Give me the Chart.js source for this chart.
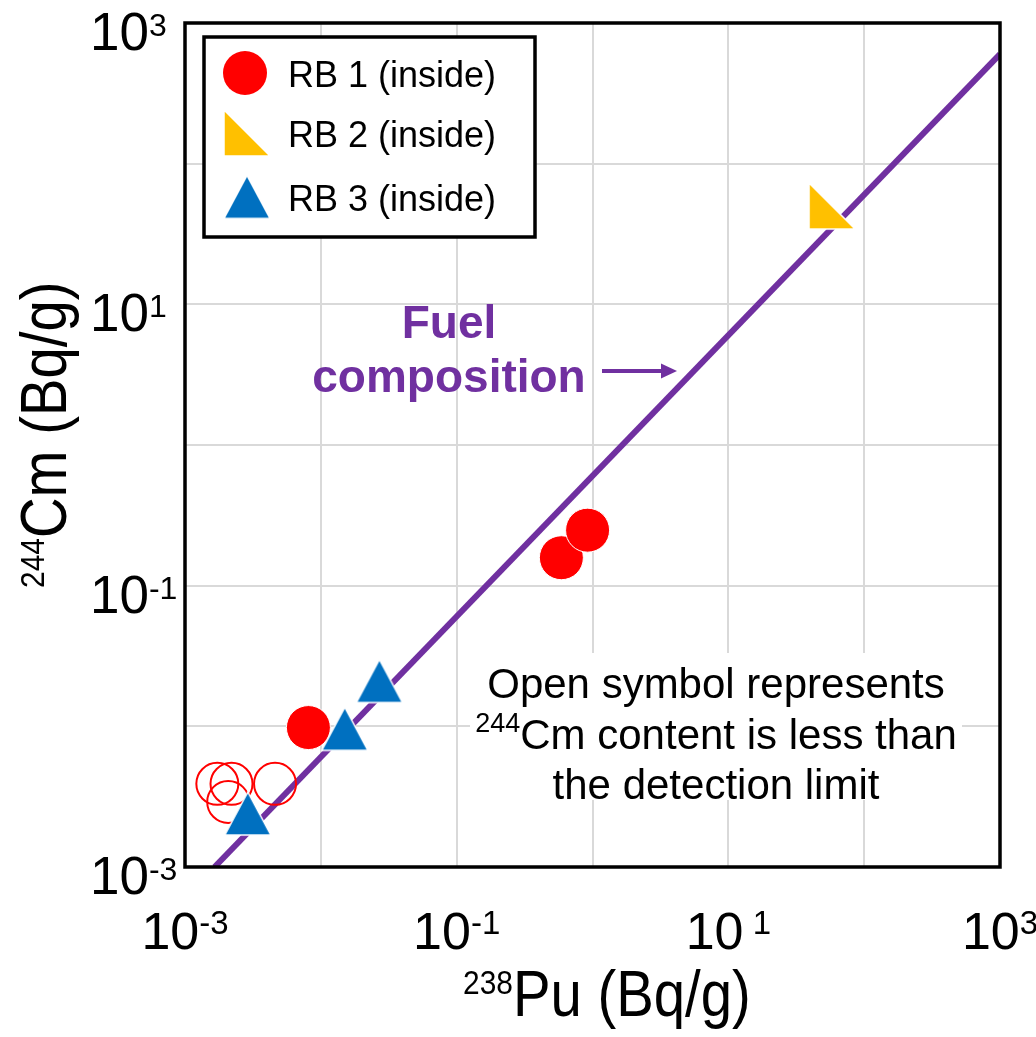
<!DOCTYPE html>
<html>
<head>
<meta charset="utf-8">
<script src="https://cdn.jsdelivr.net/npm/chart.js@4.4.0/dist/chart.umd.min.js"></script>
<style>
html, body { margin: 0; padding: 0; background: #fff; }
#wrap { width: 1036px; height: 1037px; }
</style>
</head>
<body>
<div id="wrap"><canvas id="grafico" width="1036" height="1037"></canvas></div>
<script>
// data (Bq/g)
const rb1X = [0.0081, 0.59, 0.92];
const rb1Y = [0.0098, 0.158, 0.248];
const rb1OpenX = [0.00173, 0.0022, 0.00208, 0.0046];
const rb1OpenY = [0.0039, 0.0039, 0.0029, 0.0039];
const rb2X = [58];
const rb2Y = [50];
const rb3X = [0.0029, 0.015, 0.027];
const rb3Y = [0.0024, 0.0096, 0.021];
const fuelX = [0.00165, 1000];
const fuelY = [0.001, 600];

const gridValues = [1e-3, 1e-2, 1e-1, 1e0, 1e1, 1e2, 1e3];
const tickValues = [1e-3, 1e-1, 1e1, 1e3];
const tickExpX = ['-3', '-1', ' 1', '3'];
const tickExpY = ['-3', '-1', '1', '3'];

const FONT = '"Liberation Sans", Arial, sans-serif';
const PURPLE = '#7030A0';
const RED = '#FF0000';
const YELLOW = '#FFC000';
const BLUE = '#0070C0';

const toPts = (xs, ys) => xs.map((x, i) => ({ x: x, y: ys[i] }));

function makeTriangle(w, h, color, rightAngled) {
    const c = document.createElement('canvas');
    c.width = w + 4;
    c.height = h + 4;
    const ctx = c.getContext('2d');
    ctx.beginPath();
    if (rightAngled) {
        ctx.moveTo(2, 2);
        ctx.lineTo(2, h + 2);
        ctx.lineTo(w + 2, h + 2);
    } else {
        ctx.moveTo(2 + w / 2, 2);
        ctx.lineTo(w + 2, h + 2);
        ctx.lineTo(2, h + 2);
    }
    ctx.closePath();
    ctx.fillStyle = color;
    ctx.fill();
    ctx.strokeStyle = '#fff';
    ctx.lineWidth = 1.5;
    ctx.stroke();
    return c;
}

const triBlue = makeTriangle(46, 43, BLUE, false);
const triYellow = makeTriangle(46, 46, YELLOW, true);

// text with superscripts: segs = [[text, size, rise], ...]
function richText(ctx, segs, x, y, opts) {
    opts = opts || {};
    const weight = opts.bold ? 'bold ' : '';
    const widths = segs.map(s => {
        ctx.font = weight + s[1] + 'px ' + FONT;
        return ctx.measureText(s[0]).width;
    });
    const total = widths.reduce((a, b) => a + b, 0);
    ctx.save();
    ctx.translate(x, y);
    if (opts.rotate) ctx.rotate(opts.rotate);
    ctx.scale(opts.scaleX || 1, 1);
    let cx = opts.align === 'center' ? -total / 2 : 0;
    ctx.fillStyle = opts.color || '#000';
    ctx.textAlign = 'left';
    ctx.textBaseline = 'alphabetic';
    segs.forEach((s, i) => {
        ctx.font = weight + s[1] + 'px ' + FONT;
        ctx.fillText(s[0], cx, -s[2]);
        cx += widths[i];
    });
    ctx.restore();
}

const decorations = {
    id: 'decorations',
    afterDatasetsDraw(chart) {
        const { ctx, chartArea: a } = chart;
        ctx.save();
        ctx.strokeStyle = '#000';
        ctx.lineWidth = 3.5;
        ctx.strokeRect(a.left, a.top, a.right - a.left, a.bottom - a.top);
        ctx.restore();
    },
    afterDraw(chart) {
        const { ctx } = chart;
        const xs = chart.scales.x, ys = chart.scales.y;

        // tick labels
        tickValues.forEach((v, i) => {
            richText(ctx, [['10', 52, 0], [tickExpX[i], 33, 15]], xs.getPixelForValue(v), 949, { align: 'center' });
            richText(ctx, [['10', 53, 0], [tickExpY[i], 32, 14]], 90, ys.getPixelForValue(v) + 27, {});
        });

        // axis titles
        richText(ctx, [['238', 34, 22], ['Pu (Bq/g)', 64, 0]], 463, 1016, { scaleX: 0.88 });
        richText(ctx, [['244', 34, 22], ['Cm (Bq/g)', 64, 0]], 66, 588, { scaleX: 0.88, rotate: -Math.PI / 2 });

        // fuel composition label and arrow
        richText(ctx, [['Fuel', 46, 0]], 449, 338, { align: 'center', bold: true, color: PURPLE });
        richText(ctx, [['composition', 46, 0]], 449, 392, { align: 'center', bold: true, color: PURPLE });
        ctx.save();
        ctx.strokeStyle = PURPLE;
        ctx.fillStyle = PURPLE;
        ctx.lineWidth = 4;
        ctx.beginPath();
        ctx.moveTo(602, 371);
        ctx.lineTo(664, 371);
        ctx.stroke();
        ctx.beginPath();
        ctx.moveTo(677, 371);
        ctx.lineTo(661, 363.5);
        ctx.lineTo(661, 378.5);
        ctx.closePath();
        ctx.fill();
        ctx.restore();

        // note box
        ctx.save();
        ctx.fillStyle = '#fff';
        ctx.fillRect(470, 653, 492, 147);
        ctx.restore();
        richText(ctx, [['Open symbol represents', 42, 0]], 716, 698, { align: 'center' });
        richText(ctx, [['244', 27, 17], ['Cm content is less than', 42, 0]], 716, 749, { align: 'center' });
        richText(ctx, [['the detection limit', 42, 0]], 716, 799, { align: 'center' });

        // legend
        ctx.save();
        ctx.fillStyle = '#fff';
        ctx.fillRect(204, 37, 331, 200);
        ctx.strokeStyle = '#000';
        ctx.lineWidth = 3.5;
        ctx.strokeRect(204, 37, 331, 200);
        const legendLabels = ['RB 1 (inside)', 'RB 2 (inside)', 'RB 3 (inside)'];
        const rowY = [73, 133, 197];
        legendLabels.forEach((lab, i) => {
            const ds = chart.data.datasets.find(d => d.label === lab);
            const y = rowY[i];
            if (ds.pointStyle === 'circle') {
                ctx.beginPath();
                ctx.arc(245, y, 22, 0, Math.PI * 2);
                ctx.fillStyle = ds.backgroundColor;
                ctx.fill();
            } else {
                const img = ds.pointStyle;
                ctx.drawImage(img, 247 - img.width / 2, y - img.height / 2);
            }
            richText(ctx, [[lab, 36, 0]], 288, y + 14, {});
        });
        ctx.restore();
    }
};

const scaleOpts = () => ({
    type: 'logarithmic',
    min: 1e-3,
    max: 1e3,
    afterBuildTicks: s => { s.ticks = gridValues.map(v => ({ value: v })); },
    ticks: { display: false },
    grid: { color: '#d9d9d9', lineWidth: 2, drawTicks: false },
    border: { display: false }
});

new Chart(document.getElementById('grafico').getContext('2d'), {
    type: 'scatter',
    data: {
        datasets: [
            {
                label: 'RB 3 (inside)',
                data: toPts(rb3X, rb3Y),
                pointStyle: triBlue,
                pointRadius: 20,
                order: 0
            },
            {
                label: 'RB 2 (inside)',
                data: toPts(rb2X, rb2Y),
                pointStyle: triYellow,
                pointRadius: 20,
                order: 0
            },
            {
                label: 'RB 1 (inside)',
                data: toPts(rb1X, rb1Y),
                pointStyle: 'circle',
                pointRadius: 22,
                backgroundColor: RED,
                borderColor: '#fff',
                borderWidth: 1,
                order: 1
            },
            {
                label: 'RB 1 (inside, below detection limit)',
                data: toPts(rb1OpenX, rb1OpenY),
                pointStyle: 'circle',
                pointRadius: 21,
                backgroundColor: 'rgba(0,0,0,0)',
                borderColor: RED,
                borderWidth: 2,
                order: 2
            },
            {
                label: 'Fuel composition',
                data: toPts(fuelX, fuelY),
                showLine: true,
                pointRadius: 0,
                borderColor: PURPLE,
                borderWidth: 6,
                order: 3
            }
        ]
    },
    options: {
        responsive: false,
        animation: false,
        layout: { padding: { left: 185, top: 23, right: 36, bottom: 170 } },
        plugins: {
            legend: { display: false },
            tooltip: { enabled: false }
        },
        scales: { x: scaleOpts(), y: scaleOpts() }
    },
    plugins: [decorations]
});
</script>
</body>
</html>
